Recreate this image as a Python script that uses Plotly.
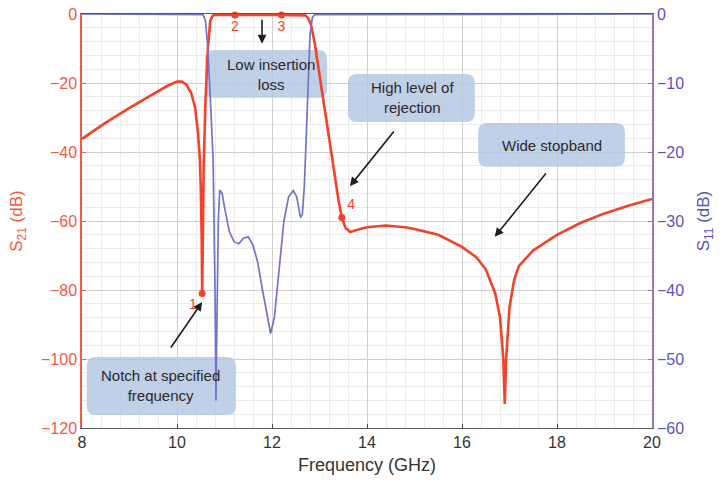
import plotly.graph_objects as go

# ---------------- data ----------------
freq_s21 = [8.0, 8.5, 9.0, 9.5, 9.8, 10.0, 10.1, 10.2, 10.3, 10.38, 10.44, 10.48, 10.5,
            10.52, 10.53, 10.545, 10.56, 10.6, 10.65, 10.7, 10.75, 10.8, 11.2, 12.2,
            12.7, 12.76, 12.82, 12.9, 13.0, 13.1, 13.2, 13.3, 13.4, 13.47, 13.55, 13.65,
            13.8, 14.0, 14.4, 14.8, 15.0, 15.5, 16.0, 16.3, 16.5, 16.7, 16.8, 16.87, 16.9,
            16.93, 17.0, 17.1, 17.2, 17.5, 18.0, 18.5, 19.0, 19.5, 20.0]
s21_db = [-36.2, -31.5, -27.2, -23.2, -20.8, -19.6, -19.6, -20.5, -23.0, -27.0, -34.0, -42.0, -50.0,
          -65.0, -81.0, -65.0, -45.0, -25.0, -10.0, -2.0, -0.5, -0.2, -0.3, -0.3,
          -0.4, -1.2, -3.0, -8.5, -17.5, -27.0, -36.5, -45.5, -54.0, -59.0, -62.0, -63.2,
          -62.5, -61.8, -61.3, -61.8, -62.3, -64.0, -67.5, -70.5, -74.0, -81.0, -88.0, -100.0, -113.0,
          -100.0, -85.0, -77.0, -73.0, -68.5, -64.0, -60.5, -57.8, -55.6, -53.6]

freq_s11 = [8.0, 10.55, 10.6, 10.65, 10.7, 10.76, 10.8, 10.82, 10.84, 10.87, 10.9, 10.95,
            11.0, 11.1, 11.2, 11.3, 11.4, 11.5, 11.6, 11.7, 11.8, 11.9, 11.97, 12.05,
            12.15, 12.25, 12.35, 12.45, 12.52, 12.6, 12.64, 12.68, 12.72, 12.76, 12.8,
            12.85, 12.9, 20.0]
s11_db = [0.0, -0.1, -1.0, -5.0, -12.0, -21.0, -40.0, -56.0, -45.0, -30.0, -25.5, -26.0,
          -28.0, -31.5, -33.0, -33.3, -32.5, -32.3, -33.5, -36.0, -40.0, -44.0, -46.3, -44.0,
          -37.0, -30.0, -26.5, -25.6, -26.5, -29.5, -29.0, -25.0, -18.0, -9.0, -3.0,
          -0.5, -0.1, 0.0]

marker_freq = [10.53, 11.22, 12.2, 13.47]
marker_s21 = [-81.0, -0.3, -0.3, -59.0]
marker_labels = ["1", "2", "3", "4"]

x_ticks = [8, 10, 12, 14, 16, 18, 20]
y1_ticks = [-120, -100, -80, -60, -40, -20, 0]
y2_ticks = [-60, -50, -40, -30, -20, -10, 0]

# ---------------- styling ----------------
RED = "#F2422A"
RED_AX = "#F25A46"
BLUE = "#7074CC"
BLUE_TXT = "#5656BE"
PURPLE_AX = "#9474BC"
FONT = "Liberation Sans, Arial, sans-serif"

fig = go.Figure()

fig.add_trace(go.Scatter(x=freq_s11, y=s11_db, mode="lines", yaxis="y2",
                         line=dict(color=BLUE, width=1.7), showlegend=False))
fig.add_trace(go.Scatter(x=freq_s21, y=s21_db, mode="lines",
                         line=dict(color=RED, width=2.6), showlegend=False))
fig.add_trace(go.Scatter(x=marker_freq, y=marker_s21, mode="markers+text",
                         text=marker_labels,
                         textposition=["bottom left", "bottom center", "bottom center", "top right"],
                         textfont=dict(color=RED, size=14, family=FONT),
                         marker=dict(color=RED, size=7), cliponaxis=False, showlegend=False))

# rounded annotation boxes (data coords)
KX = 12.0 / 570.0   # GHz per px
KY = 120.0 / 414.0  # dB per px


def rounded(x0, x1, y0, y1, r=9):
    rx, ry = r * KX, r * KY
    return (f"M {x0+rx},{y0} L {x1-rx},{y0} Q {x1},{y0} {x1},{y0+ry} "
            f"L {x1},{y1-ry} Q {x1},{y1} {x1-rx},{y1} L {x0+rx},{y1} "
            f"Q {x0},{y1} {x0},{y1-ry} L {x0},{y0+ry} Q {x0},{y0} {x0+rx},{y0} Z")


boxes = [(10.59, 13.16, -24.3, -10.4), (13.6, 16.27, -31.3, -17.4),
         (16.34, 19.43, -44.3, -31.6), (8.1, 11.24, -116.2, -99.4)]
shapes = []
for b in boxes:
    shapes.append(dict(type="path", path=rounded(*b), xref="x", yref="y",
                       fillcolor="rgba(178,198,226,0.82)", line=dict(width=0),
                       layer="between"))

ann_text = [("Low insertion<br>loss", 11.98, -17.6), ("High level of<br>rejection", 14.95, -24.3),
            ("Wide stopband", 17.9, -38.0), ("Notch at specified<br>frequency", 9.66, -107.6)]
annotations = []
for t, x, y in ann_text:
    annotations.append(dict(text=t, x=x, y=y, xref="x", yref="y", showarrow=False,
                            font=dict(size=15, color="#2a2a2a", family=FONT)))

arrows = [((11.79, -1.2), (11.79, -8.6)), ((14.59, -33.6), (13.64, -49.9)),
          ((17.79, -45.8), (16.69, -64.6)), ((9.85, -97.1), (10.53, -83.5))]
for (tx, ty), (hx, hy) in arrows:
    annotations.append(dict(x=hx, y=hy, ax=tx, ay=ty, xref="x", yref="y", axref="x", ayref="y",
                            text="", showarrow=True, arrowhead=2, arrowsize=1.1,
                            arrowwidth=1.6, arrowcolor="#1e1e1e"))

fig.update_layout(
    width=727, height=487,
    margin=dict(l=82, r=75, t=14, b=59, autoexpand=False),
    paper_bgcolor="white", plot_bgcolor="white",
    font=dict(family=FONT),
    shapes=shapes, annotations=annotations,
    xaxis=dict(range=[8, 20], tickvals=x_ticks, ticks="inside", ticklen=4,
               tickcolor="#444", linecolor="#555", linewidth=1.2, mirror=True,
               showgrid=True, gridcolor="#cfcfcf", gridwidth=1,
               minor=dict(dtick=0.4, showgrid=True, gridcolor="#ececec", gridwidth=1),
               tickfont=dict(size=16, color="#333"), automargin=False,
               title=dict(text="Frequency (GHz)", font=dict(size=18, color="#333"), standoff=8),
               zeroline=False),
    yaxis=dict(range=[-120, 0], tickvals=y1_ticks, ticks="inside", ticklen=4,
               tickcolor=RED_AX, linecolor=RED_AX, linewidth=1.5, automargin=False,
               showgrid=True, gridcolor="#cfcfcf", gridwidth=1,
               minor=dict(dtick=4, showgrid=True, gridcolor="#ececec", gridwidth=1),
               tickfont=dict(size=16, color=RED_AX), ticklabeloverflow="allow",
               title=dict(text="S<sub>21</sub> (dB)", font=dict(size=17, color=RED_AX), standoff=14),
               zeroline=False),
    yaxis2=dict(range=[-60, 0], tickvals=y2_ticks, overlaying="y", side="right",
                ticks="inside", ticklen=4, tickcolor=PURPLE_AX, automargin=False,
                linecolor=PURPLE_AX, linewidth=1.5, showgrid=False, zeroline=False,
                tickfont=dict(size=16, color=BLUE_TXT), ticklabeloverflow="allow",
                title=dict(text="S<sub>11</sub> (dB)", font=dict(size=17, color=BLUE_TXT), standoff=14)),
)

fig.write_html("out.html", config={"displayModeBar": False},
               post_script="document.body.style.margin='0';document.body.style.padding='0';")
